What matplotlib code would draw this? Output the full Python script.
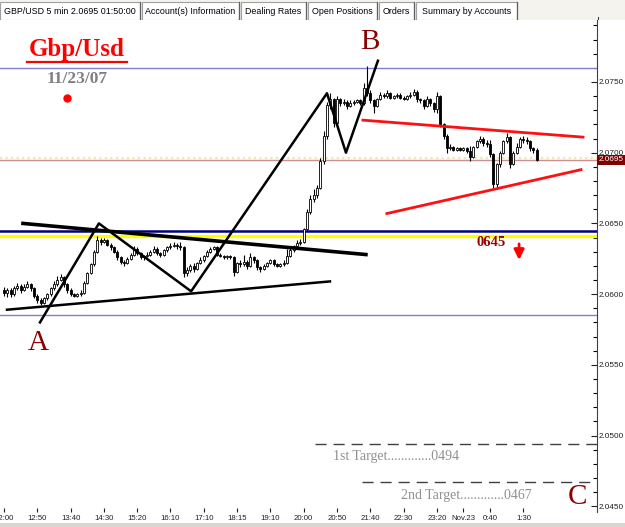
import matplotlib
matplotlib.use('Agg')
import matplotlib.pyplot as plt
from matplotlib.patches import Rectangle

# 5-min GBP/USD bars, prices in pips above 2.0000
first_open = 603
close = [601, 603, 600, 604, 606, 603, 605, 607, 604, 599, 596, 594, 597, 600, 604, 607, 610, 612, 607, 603,
         600, 599, 600, 601, 608, 615, 621, 630, 638, 637, 638, 635, 633, 630, 626, 623, 622, 625, 628, 632,
         629, 626, 627, 628, 630, 632, 629, 628, 631, 633, 634, 635, 634, 633, 615, 617, 620, 618, 622, 624,
         627, 630, 632, 633, 628, 627, 626, 627, 626, 616, 622, 621, 623, 620, 626, 624, 619, 618, 620, 622,
         624, 621, 620, 621, 622, 627, 631, 634, 636, 637, 646, 658, 667, 670, 675, 694, 712, 734, 738, 721,
         738, 735, 736, 733, 735, 736, 737, 735, 746, 742, 737, 733, 738, 741, 740, 742, 739, 740, 741, 739,
         738, 740, 741, 743, 738, 737, 733, 738, 735, 731, 740, 720, 712, 703, 704, 702, 703, 702, 703, 701,
         697, 704, 708, 710, 707, 706, 699, 678, 692, 700, 708, 711, 692, 700, 704, 710, 709, 708, 703, 702,
         695]
high = [605, 604, 604, 606, 608, 607, 607, 609, 608, 605, 600, 597, 598, 601, 605, 609, 613, 614, 613, 608,
        604, 601, 601, 603, 609, 616, 622, 631, 641, 640, 640, 639, 636, 634, 631, 627, 624, 626, 629, 634,
        633, 630, 628, 630, 631, 634, 633, 630, 632, 634, 636, 637, 636, 637, 634, 619, 621, 622, 623, 626,
        628, 631, 633, 634, 634, 629, 628, 628, 628, 627, 623, 624, 628, 624, 629, 627, 625, 620, 621, 623,
        625, 625, 622, 622, 624, 632, 633, 635, 638, 639, 647, 660, 670, 674, 677, 696, 715, 736, 742, 739,
        740, 739, 738, 737, 737, 737, 738, 738, 749, 761, 744, 738, 739, 743, 742, 744, 743, 741, 742, 742,
        740, 741, 743, 745, 744, 739, 738, 740, 739, 736, 743, 741, 721, 713, 706, 705, 704, 704, 704, 704,
        705, 705, 709, 712, 711, 709, 709, 700, 693, 701, 709, 714, 712, 701, 707, 711, 712, 711, 709, 704,
        703]
low = [599, 598, 598, 599, 603, 601, 602, 604, 602, 597, 594, 592, 593, 596, 599, 603, 606, 609, 605, 601,
       599, 598, 598, 599, 600, 607, 614, 620, 629, 635, 636, 634, 631, 629, 624, 621, 620, 621, 624, 627,
       628, 625, 624, 626, 627, 629, 628, 626, 627, 630, 632, 633, 632, 631, 612, 613, 616, 616, 617, 621,
       623, 626, 629, 631, 627, 626, 625, 625, 625, 613, 615, 619, 620, 618, 619, 622, 617, 616, 617, 619,
       621, 620, 619, 619, 620, 621, 626, 630, 633, 635, 636, 645, 657, 665, 668, 674, 692, 710, 731, 718,
       719, 733, 734, 731, 732, 734, 735, 734, 734, 740, 735, 728, 732, 737, 739, 739, 738, 738, 739, 738,
       737, 737, 739, 740, 736, 735, 731, 732, 733, 729, 728, 718, 710, 700, 702, 701, 701, 701, 701, 700,
       694, 696, 703, 707, 705, 704, 697, 675, 676, 690, 699, 707, 689, 691, 699, 703, 707, 706, 701, 700,
       694]

tick_bars = [0, 10, 20, 30, 40, 50, 60, 70, 80, 90, 100, 110, 120, 130, 138, 146, 156]
tick_labels = ['12:00', '12:50', '13:40', '14:30', '15:20', '16:10', '17:10', '18:15', '19:10', '20:00',
               '20:50', '21:40', '22:30', '23:20', 'Nov.23', '0:40', '1:30']

# drawn studies (bar index, price)
zigzag_x = [10.8, 28.5, 56.2, 97.0, 102.7, 112.3]
zigzag_y = [2.0580, 2.0650, 2.0602, 2.0742, 2.0700, 2.0765]
tri_top_x, tri_top_y = [5.7, 108.7], [2.0650, 2.0628]
tri_bot_x, tri_bot_y = [0.9, 97.9], [2.0589, 2.0609]
red_top_x, red_top_y = [107.8, 173.9], [2.0723, 2.0711]
red_bot_x, red_bot_y = [115.0, 173.3], [2.0657, 2.0688]
level_top = 2.0760
level_bottom = 2.0585
level_navy = 2.06444
level_yellow = 2.06413
last_price = 2.0695
target1, target2 = 2.0494, 2.0467

W, H = 625, 527
fig = plt.figure(figsize=(W / 100, H / 100), dpi=100)
fig.patch.set_facecolor('white')

x0, x1 = -1.2, 178.1
ax = fig.add_axes([0, 1 - 512 / H, 597 / W, (512 - 20) / H])
ax.set_xlim(x0, x1)
ax.set_ylim(2.04460, 2.07938)

# price levels
ax.axhline(level_top, color='#8080d0', lw=1)
ax.axhline(level_bottom, color='#8080d0', lw=1)
ax.axhline(last_price + 0.00012, color='#f2e4a8', lw=1.5, ls=':')
ax.axhline(last_price, color='#c89090', lw=1)
ax.axhline(level_yellow, color='#ffff00', lw=2.4)
ax.axhline(level_navy, color='#000080', lw=1.8)

# candles
opens = [first_open] + close[:-1]
for i in range(len(close)):
    o = 2 + opens[i] / 10000
    c = 2 + close[i] / 10000
    h = 2 + high[i] / 10000
    l = 2 + low[i] / 10000
    ax.vlines(i, l, h, color='black', lw=0.8, zorder=3)
    bottom = min(o, c)
    height = max(abs(c - o), 0.00002)
    face = 'white' if c >= o else 'black'
    ax.bar(i, height, bottom=bottom, width=0.6, facecolor=face, edgecolor='black', lw=0.6, zorder=4)

# trend lines
ax.plot(zigzag_x, zigzag_y, color='black', lw=1.8, zorder=5)
ax.plot(tri_top_x, tri_top_y, color='black', lw=2.6, zorder=5)
ax.plot(tri_bot_x, tri_bot_y, color='black', lw=1.8, zorder=5)
ax.plot(red_top_x, red_top_y, color='#ff1010', lw=2, zorder=5)
ax.plot(red_bot_x, red_bot_y, color='#ff1010', lw=2, zorder=5)
ax.plot([93.4, x1], [target1, target1], color='#404040', lw=1, dashes=(8, 5))
ax.plot([107.5, x1], [target2, target2], color='#404040', lw=1, dashes=(8, 5))

# labels
serif = 'Liberation Serif'
ax.text(21.9, 2.07726, 'Gbp/Usd', color='red', fontsize=18, fontweight='bold', family=serif,
        ha='center', va='center')
ax.plot([6.9, 37.0], [2.07641, 2.07641], color='red', lw=1.6)
ax.text(21.8, 2.07521, '11/23/07', color='#808080', fontsize=12.5, fontweight='bold', family=serif,
        ha='center', va='center')
ax.plot([18.9], [2.07387], 'o', color='red', ms=5)
ax.text(10.2, 2.05655, 'A', color='#8b0000', fontsize=21, family=serif, ha='center', va='center')
ax.text(109.9, 2.07783, 'B', color='#8b0000', fontsize=21, family=serif, ha='center', va='center')
ax.text(172.1, 2.04566, 'C', color='#8b0000', fontsize=21, family=serif, ha='center', va='center')
ax.text(146.2, 2.06362, '0645', color='#990000', fontsize=10.5, fontweight='bold', family=serif,
        ha='center', va='center')
ax.annotate('', xy=(154.7, 2.06222), xytext=(154.7, 2.06375),
            arrowprops=dict(arrowstyle='-|>', color='red', lw=2, mutation_scale=15))
ax.text(117.9, 2.04849, '1st Target.............0494', color='#909090', fontsize=10, family=serif,
        ha='center', va='center')
ax.text(138.9, 2.04580, '2nd Target.............0467', color='#909090', fontsize=10, family=serif,
        ha='center', va='center')

# axes
for s in ['left', 'top', 'bottom']:
    ax.spines[s].set_visible(False)
ax.spines['right'].set_color('#404040')
ax.yaxis.tick_right()
ax.set_yticks([2.045 + 0.005 * k for k in range(7)])
ax.set_yticklabels(['%.4f' % (2.045 + 0.005 * k) for k in range(7)])
ax.set_yticks([2.045 + 0.001 * k for k in range(35) if k % 5], minor=True)
ax.tick_params(axis='y', which='major', direction='in', length=4, width=0.8, pad=1.5,
               labelsize=5.9, colors='#202020')
ax.tick_params(axis='y', which='minor', direction='in', length=3, width=0.8)
ax.set_xticks(tick_bars)
ax.set_xticklabels(tick_labels)
ax.tick_params(axis='x', direction='in', length=3, width=0.8, pad=2, labelsize=5.6, colors='#202020')
for t in ax.get_xticklabels() + ax.get_yticklabels():
    t.set_family('Liberation Sans')

ax.text(1.003, last_price, '2.0695', transform=ax.get_yaxis_transform(), color='white',
        fontsize=5.9, family='Liberation Sans', ha='left', va='center',
        bbox=dict(boxstyle='square,pad=0.2', facecolor='#800000', edgecolor='none'))

# tab strip
tb = fig.add_axes([0, 1 - 20 / H, 1, 20 / H])
tb.set_xlim(0, W)
tb.set_ylim(20, 0)
tb.axis('off')
tb.add_patch(Rectangle((0, 0), W, 20, facecolor='#f4f3ee', edgecolor='none'))
tabs = [(0, 140, 'GBP/USD 5 min 2.0695 01:50:00'), (142, 239, 'Account(s) Information'),
        (241, 306, 'Dealing Rates'), (308, 377, 'Open Positions'), (379, 414, 'Orders'),
        (416, 517, 'Summary by Accounts')]
for a, b, label in tabs:
    tb.add_patch(Rectangle((a, 1.5), b - a, 18.5, facecolor='white', edgecolor='#a0a0a0', lw=0.8))
    tb.plot([b, b], [2, 20], color='#606060', lw=0.9)
    tb.text((a + b) / 2, 11, label, fontsize=6.4, family='Liberation Sans', ha='center', va='center')
tb.plot([597.5, 597.5], [17, 20], color='#404040', lw=0.8)

# bottom scroll strip
sb = fig.add_axes([0, 0, 1, 4 / H])
sb.axis('off')
sb.add_patch(Rectangle((0, 0), 1, 1, facecolor='#d8d6ce', edgecolor='none', transform=sb.transAxes))

fig.savefig('out.png', dpi=100)
